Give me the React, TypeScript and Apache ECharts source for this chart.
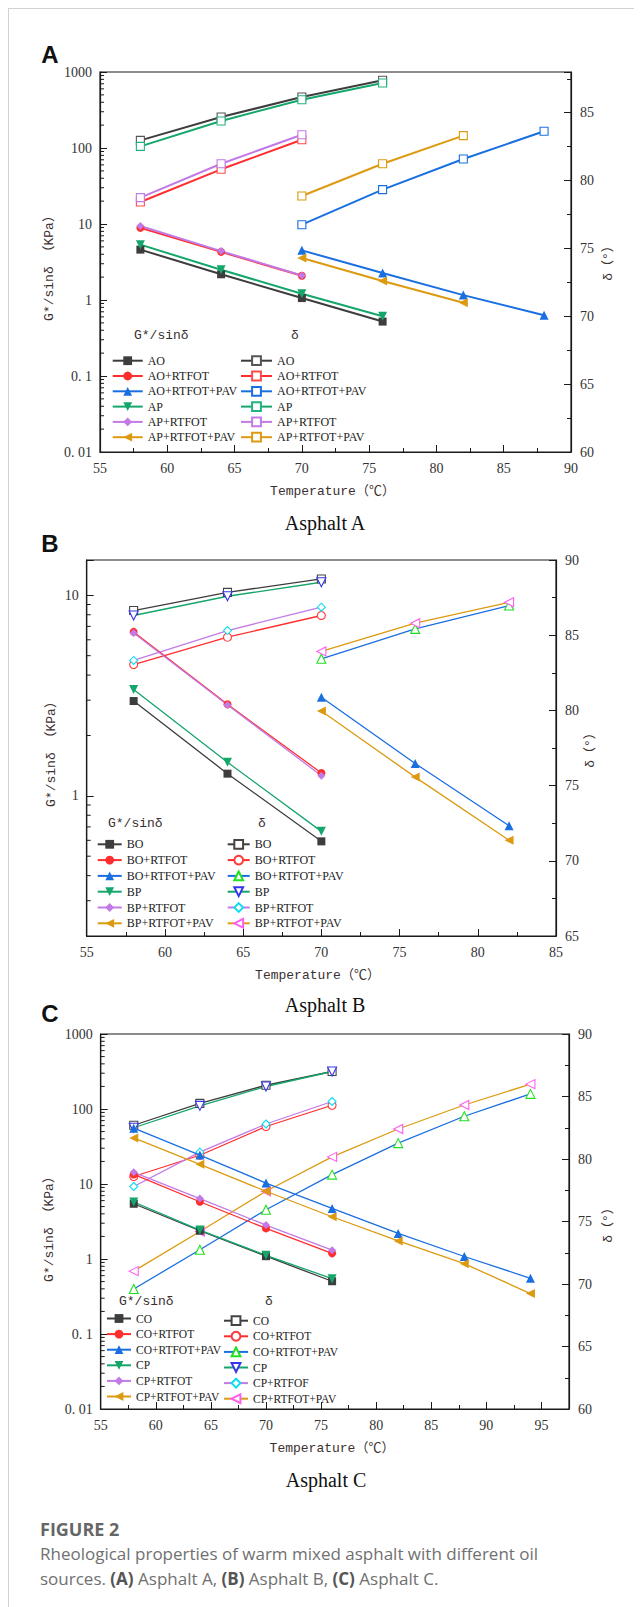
import React, { useEffect, useRef } from 'react';
import * as echarts from 'echarts';

// ---------- Panel A : Asphalt A ----------
const A_G_NAMES = ['AO', 'AO+RTFOT', 'AO+RTFOT+PAV', 'AP', 'AP+RTFOT', 'AP+RTFOT+PAV'];
const A_D_NAMES = ['AO', 'AO+RTFOT', 'AO+RTFOT+PAV', 'AP', 'AP+RTFOT', 'AP+RTFOT+PAV'];
const A_TEMPS = [
  [58, 64, 70, 76],
  [58, 64, 70],
  [70, 76, 82, 88],
  [58, 64, 70, 76],
  [58, 64, 70],
  [70, 76, 82],
];
const A_G_AO = [4.6, 2.18, 1.06, 0.52];
const A_G_AO_RTFOT = [8.9, 4.3, 2.08];
const A_G_AO_PAV = [4.5, 2.27, 1.16, 0.63];
const A_G_AP = [5.35, 2.5, 1.21, 0.61];
const A_G_AP_RTFOT = [9.4, 4.4, 2.1];
const A_G_AP_PAV = [3.57, 1.78, 0.92];
const A_D_AO = [82.96, 84.68, 86.16, 87.39];
const A_D_AO_RTFOT = [78.42, 80.83, 83.01];
const A_D_AO_PAV = [76.75, 79.33, 81.59, 83.63];
const A_D_AP = [82.52, 84.39, 85.96, 87.19];
const A_D_AP_RTFOT = [78.74, 81.24, 83.38];
const A_D_AP_PAV = [78.86, 81.24, 83.31];

// ---------- Panel B : Asphalt B ----------
const B_G_NAMES = ['BO', 'BO+RTFOT', 'BO+RTFOT+PAV', 'BP', 'BP+RTFOT', 'BP+RTFOT+PAV'];
const B_D_NAMES = ['BO', 'BO+RTFOT', 'BO+RTFOT+PAV', 'BP', 'BP+RTFOT', 'BP+RTFOT+PAV'];
const B_TEMPS = [
  [58, 64, 70],
  [58, 64, 70],
  [70, 76, 82],
  [58, 64, 70],
  [58, 64, 70],
  [70, 76, 82],
];
const B_G_BO = [2.97, 1.29, 0.593];
const B_G_BO_RTFOT = [6.57, 2.86, 1.3];
const B_G_BO_PAV = [3.1, 1.45, 0.709];
const B_G_BP = [3.39, 1.47, 0.665];
const B_G_BP_RTFOT = [6.49, 2.84, 1.26];
const B_G_BP_PAV = [2.65, 1.24, 0.6];
const B_D_BO = [86.64, 87.85, 88.74];
const B_D_BO_RTFOT = [83.05, 84.87, 86.31];
const B_D_BO_PAV = [83.43, 85.42, 86.97];
const B_D_BP = [86.31, 87.59, 88.52];
const B_D_BP_RTFOT = [83.32, 85.31, 86.86];
const B_D_BP_PAV = [83.92, 85.8, 87.19];

// ---------- Panel C : Asphalt C ----------
const C_G_NAMES = ['CO', 'CO+RTFOT', 'CO+RTFOT+PAV', 'CP', 'CP+RTFOT', 'CP+RTFOT+PAV'];
const C_D_NAMES = ['CO', 'CO+RTFOT', 'CO+RTFOT+PAV', 'CP', 'CP+RTFOF', 'CP+RTFOT+PAV'];
const C_TEMPS = [
  [58, 64, 70, 76],
  [58, 64, 70, 76],
  [58, 64, 70, 76, 82, 88, 94],
  [58, 64, 70, 76],
  [58, 64, 70, 76],
  [58, 64, 70, 76, 82, 88, 94],
];
const C_G_CO = [5.45, 2.38, 1.09, 0.505];
const C_G_CO_RTFOT = [13.4, 5.8, 2.56, 1.19];
const C_G_CO_PAV = [55.5, 24.3, 10.3, 4.72, 2.19, 1.08, 0.553];
const C_G_CP = [5.75, 2.43, 1.12, 0.547];
const C_G_CP_RTFOT = [14.3, 6.4, 2.83, 1.31];
const C_G_CP_PAV = [41.2, 18.3, 8.0, 3.66, 1.74, 0.866, 0.346];
const C_D_CO = [82.7, 84.45, 85.9, 87.0];
const C_D_CO_RTFOT = [78.6, 80.3, 82.6, 84.3];
const C_D_CO_PAV = [69.6, 72.74, 75.94, 78.75, 81.27, 83.42, 85.21];
const C_D_CP = [82.5, 84.25, 85.8, 87.0];
const C_D_CP_RTFOT = [77.8, 80.55, 82.8, 84.6];
const C_D_CP_PAV = [71.03, 74.2, 77.42, 80.17, 82.4, 84.32, 85.99];

// axis ranges / tick values
const X_MAX = [90, 85, 97.5];
const LOG_MINOR_AC = [
  0.02, 0.03, 0.04, 0.05, 0.06, 0.07, 0.08, 0.09,
  0.2, 0.3, 0.4, 0.5, 0.6, 0.7, 0.8, 0.9,
  2, 3, 4, 5, 6, 7, 8, 9,
  20, 30, 40, 50, 60, 70, 80, 90,
  200, 300, 400, 500, 600, 700, 800, 900,
];
const LOG_MINOR_B = [0.3, 0.4, 0.5, 0.6, 0.7, 0.8, 0.9, 2, 3, 4, 5, 6, 7, 8, 9];

// ---------- styles ----------
const FILLED = [
  { color: '#3d3d3d', symbol: 'rect', rotate: 0 },
  { color: '#ff2d2d', symbol: 'circle', rotate: 0 },
  { color: '#1a6fe0', symbol: 'triangle', rotate: 0 },
  { color: '#14a66a', symbol: 'triangle', rotate: 180 },
  { color: '#c27ae6', symbol: 'diamond', rotate: 0 },
  { color: '#dc9a10', symbol: 'triangle', rotate: 90 },
];
const OPEN_A = [
  { color: '#555555', symbol: 'rect', rotate: 0 },
  { color: '#ff4a4a', symbol: 'rect', rotate: 0 },
  { color: '#1a6fe0', symbol: 'rect', rotate: 0 },
  { color: '#22b47c', symbol: 'rect', rotate: 0 },
  { color: '#c27ae6', symbol: 'rect', rotate: 0 },
  { color: '#dc9a10', symbol: 'rect', rotate: 0 },
];
const OPEN_BC = [
  { color: '#444444', symbol: 'rect', rotate: 0 },
  { color: '#ff3a3a', symbol: 'circle', rotate: 0 },
  { color: '#22e022', symbol: 'triangle', rotate: 0 },
  { color: '#3535ee', symbol: 'triangle', rotate: 180 },
  { color: '#10dcf0', symbol: 'diamond', rotate: 0 },
  { color: '#ff5ef0', symbol: 'triangle', rotate: 90 },
];

const AXIS_COLOR = '#1a1a1a';
const LABEL_FONT = 'Liberation Serif';
const MONO_FONT = "'Liberation Mono', 'Noto Sans CJK SC'";
const ZW = '\u200b';

const zip = (xs: number[], ys: number[]) => xs.map((x, i) => [x, ys[i]]);

const logFmt = (v: number) => {
  const e = Math.log10(v);
  if (Math.abs(e - Math.round(e)) > 1e-6) return '';
  const r = Math.round(e);
  if (r === -2) return '0. 01';
  if (r === -1) return '0. 1';
  return String(Math.round(v));
};
const fiveFmt = (v: number) => (Math.abs(v % 5) < 1e-6 ? String(v) : '');

function buildPanel(
  p: number,
  gNames: string[],
  dNames: string[],
  temps: number[][],
  gVals: number[][],
  dVals: number[][],
  openStyles: typeof OPEN_BC,
  lineWidth: number,
  symSize: number,
  minorTicks: number[],
) {
  const series: any[] = [];
  gNames.forEach((n, i) => {
    const s = FILLED[i];
    series.push({
      type: 'line',
      name: n,
      xAxisIndex: p,
      yAxisIndex: 2 * p,
      data: zip(temps[i], gVals[i]),
      symbol: s.symbol,
      symbolRotate: s.rotate,
      symbolSize: s.symbol === 'triangle' ? symSize + 1 : symSize,
      lineStyle: { color: s.color, width: lineWidth },
      itemStyle: { color: s.color, borderWidth: 0 },
      z: 3,
    });
  });
  dNames.forEach((n, i) => {
    const s = openStyles[i];
    series.push({
      type: 'line',
      name: n + ZW,
      xAxisIndex: p,
      yAxisIndex: 2 * p + 1,
      data: zip(temps[i], dVals[i]),
      symbol: s.symbol,
      symbolRotate: s.rotate,
      symbolSize: s.symbol === 'triangle' ? symSize + 1 : symSize,
      lineStyle: { color: FILLED[i].color, width: lineWidth },
      itemStyle: { color: '#ffffff', borderColor: s.color, borderWidth: 1.1 },
      z: 2,
    });
  });
  series.push({
    type: 'custom',
    name: 'minor' + p,
    xAxisIndex: p,
    yAxisIndex: 2 * p,
    silent: true,
    clip: false,
    z: 5,
    data: minorTicks.map((v) => [55, v]),
    renderItem: (_params: any, api: any) => {
      const pt = api.coord([api.value(0), api.value(1)]);
      return {
        type: 'line',
        shape: { x1: pt[0], y1: pt[1], x2: pt[0] + 4, y2: pt[1] },
        style: { stroke: AXIS_COLOR, lineWidth: 1 },
      };
    },
  });
  return series;
}

function xAxis(p: number, max: number) {
  return {
    type: 'value',
    gridIndex: p,
    min: 55,
    max,
    interval: 5,
    axisLine: { show: true, onZero: false, lineStyle: { color: AXIS_COLOR, width: 1.2 } },
    axisTick: { show: true, inside: true, length: 7, lineStyle: { color: AXIS_COLOR, width: 1 } },
    minorTick: { show: true, splitNumber: 2, length: 4, lineStyle: { color: AXIS_COLOR, width: 1 } },
    axisLabel: { fontFamily: LABEL_FONT, fontSize: 14, color: '#333', margin: 9, formatter: fiveFmt },
    splitLine: { show: false },
  };
}
function yLog(p: number, min: number, max: number) {
  return {
    type: 'log',
    logBase: 10,
    gridIndex: p,
    position: 'left',
    min,
    max,
    axisLine: { show: true, onZero: false, lineStyle: { color: AXIS_COLOR, width: 1.2 } },
    axisTick: { show: true, inside: true, length: 7, lineStyle: { color: AXIS_COLOR, width: 1 } },
    minorTick: { show: false },
    axisLabel: { fontFamily: LABEL_FONT, fontSize: 14, color: '#333', margin: 8, formatter: logFmt },
    splitLine: { show: false },
  };
}
function yRight(p: number, min: number, max: number) {
  return {
    type: 'value',
    gridIndex: p,
    position: 'right',
    min,
    max,
    interval: 5,
    axisLine: { show: true, onZero: false, lineStyle: { color: AXIS_COLOR, width: 1.2 } },
    axisTick: { show: true, inside: true, length: 7, lineStyle: { color: AXIS_COLOR, width: 1 } },
    minorTick: { show: true, splitNumber: 2, length: 4, lineStyle: { color: AXIS_COLOR, width: 1 } },
    axisLabel: { fontFamily: LABEL_FONT, fontSize: 14, color: '#333', margin: 9, formatter: fiveFmt },
    splitLine: { show: false },
  };
}

function legend(left: number, top: number, names: string[], itemWidth: number, gap: number, fontSize: number) {
  return {
    orient: 'vertical',
    left,
    top,
    padding: 0,
    itemWidth,
    itemHeight: 11,
    itemGap: gap,
    selectedMode: false,
    data: names,
    formatter: (n: string) => n.replace(/\u200b/g, ''),
    textStyle: { fontFamily: LABEL_FONT, fontSize, color: '#222', lineHeight: 12 },
  };
}

function txt(x: number, y: number, text: string, font: any, extra: any = {}) {
  return {
    type: 'text',
    x,
    y,
    silent: true,
    ...extra,
    style: { text, align: 'center', verticalAlign: 'middle', ...font },
  };
}

export default function App() {
  const ref = useRef<HTMLDivElement>(null);
  useEffect(() => {
    if (!ref.current) return;
    const chart = echarts.init(ref.current, undefined, { renderer: 'svg' });

    const series = [
      ...buildPanel(0, A_G_NAMES, A_D_NAMES, A_TEMPS,
        [A_G_AO, A_G_AO_RTFOT, A_G_AO_PAV, A_G_AP, A_G_AP_RTFOT, A_G_AP_PAV],
        [A_D_AO, A_D_AO_RTFOT, A_D_AO_PAV, A_D_AP, A_D_AP_RTFOT, A_D_AP_PAV],
        OPEN_A, 2, 8, LOG_MINOR_AC),
      ...buildPanel(1, B_G_NAMES, B_D_NAMES, B_TEMPS,
        [B_G_BO, B_G_BO_RTFOT, B_G_BO_PAV, B_G_BP, B_G_BP_RTFOT, B_G_BP_PAV],
        [B_D_BO, B_D_BO_RTFOT, B_D_BO_PAV, B_D_BP, B_D_BP_RTFOT, B_D_BP_PAV],
        OPEN_BC, 1.3, 8, LOG_MINOR_B),
      ...buildPanel(2, C_G_NAMES, C_D_NAMES, C_TEMPS,
        [C_G_CO, C_G_CO_RTFOT, C_G_CO_PAV, C_G_CP, C_G_CP_RTFOT, C_G_CP_PAV],
        [C_D_CO, C_D_CO_RTFOT, C_D_CO_PAV, C_D_CP, C_D_CP_RTFOT, C_D_CP_PAV],
        OPEN_BC, 1.3, 8, LOG_MINOR_AC),
    ];

    const axisNameFont = { fontFamily: MONO_FONT, fontSize: 13, fill: '#3b3030' };
    const tempFont = { fontFamily: MONO_FONT, fontSize: 13, fill: '#3b3030' };
    const titleFont = { fontFamily: 'Liberation Serif', fontSize: 20, fill: '#111' };
    const letterFont = { fontFamily: 'Liberation Sans', fontSize: 24, fontWeight: 'bold', fill: '#111' };
    const headFont = { fontFamily: MONO_FONT, fontSize: 13, fill: '#3b3030', align: 'left' };
    const rot = { rotation: Math.PI / 2 };

    const graphic: any[] = [
      { type: 'line', silent: true, shape: { x1: 0, y1: 0.5, x2: 634, y2: 0.5 }, style: { stroke: '#d2d2d2', lineWidth: 1 } },
      { type: 'line', silent: true, shape: { x1: 0.5, y1: 0, x2: 0.5, y2: 1599 }, style: { stroke: '#d2d2d2', lineWidth: 1 } },
      // panel letters
      txt(42, 46, 'A', letterFont),
      txt(42, 535, 'B', letterFont),
      txt(42, 1005, 'C', letterFont),
      // axis names A
      txt(41, 257, 'G*/sinδ （KPa）', axisNameFont, rot),
      txt(600, 252, 'δ（°）', axisNameFont, rot),
      txt(324.5, 483.7, 'Temperature（℃）', tempFont),
      txt(317, 515, 'Asphalt A', titleFont),
      txt(126, 327, 'G*/sinδ', headFont),
      txt(283, 327, 'δ', headFont),
      // axis names B
      txt(43, 743, 'G*/sinδ （KPa）', axisNameFont, rot),
      txt(582, 739, 'δ（°）', axisNameFont, rot),
      txt(309.5, 967, 'Temperature（℃）', tempFont),
      txt(317, 997, 'Asphalt B', titleFont),
      txt(100, 815.3, 'G*/sinδ', headFont),
      txt(250, 815.3, 'δ', headFont),
      // axis names C
      txt(41, 1218, 'G*/sinδ （KPa）', axisNameFont, rot),
      txt(600, 1214, 'δ（°）', axisNameFont, rot),
      txt(324, 1440.8, 'Temperature（℃）', tempFont),
      txt(318, 1472, 'Asphalt C', titleFont),
      txt(111, 1293, 'G*/sinδ', headFont),
      txt(257, 1293, 'δ', headFont),
      // caption
      txt(32, 1520.7, 'FIGURE 2', { fontFamily: 'Open Sans', fontSize: 18, fontWeight: 'bold', fill: '#666', align: 'left' }),
      txt(32, 1545, 'Rheological properties of warm mixed asphalt with different oil', { fontFamily: 'Open Sans', fontSize: 17, fill: '#707070', align: 'left' }),
      {
        type: 'text',
        x: 32,
        y: 1570,
        silent: true,
        style: {
          text: '{n|sources. }{b|(A)}{n| Asphalt A, }{b|(B)}{n| Asphalt B, }{b|(C)}{n| Asphalt C.}',
          align: 'left',
          verticalAlign: 'middle',
          rich: {
            n: { fontFamily: 'Open Sans', fontSize: 17, fill: '#707070' },
            b: { fontFamily: 'Open Sans', fontSize: 17, fontWeight: 'bold', fill: '#555' },
          },
        },
      },
    ];

    const gridBase = { show: true, borderColor: AXIS_COLOR, borderWidth: 1.2, backgroundColor: 'transparent' };

    chart.setOption({
      animation: false,
      grid: [
        { ...gridBase, left: 92, top: 64, width: 471, height: 380 },
        { ...gridBase, left: 78.7, top: 552, width: 469.3, height: 376 },
        { ...gridBase, left: 92.7, top: 1026, width: 468.3, height: 375 },
      ],
      xAxis: [xAxis(0, X_MAX[0]), xAxis(1, X_MAX[1]), xAxis(2, X_MAX[2])],
      yAxis: [
        yLog(0, 0.01, 1000), yRight(0, 60, 88),
        yLog(1, 0.2, 15), yRight(1, 65, 90),
        yLog(2, 0.01, 1000), yRight(2, 60, 90),
      ],
      legend: [
        legend(103.7, 346.7, A_G_NAMES, 30, 3.3, 12),
        legend(232, 346.7, A_D_NAMES.map((n) => n + ZW), 31, 3.3, 12),
        legend(88.7, 830.3, B_G_NAMES, 24, 3.8, 12),
        legend(218.7, 830.3, B_D_NAMES.map((n) => n + ZW), 22, 3.8, 12),
        legend(98, 1304.5, C_G_NAMES, 24, 3.6, 11.5),
        legend(215, 1306.7, C_D_NAMES.map((n) => n + ZW), 24, 3.6, 11.5),
      ],
      graphic,
      series,
    });
    return () => chart.dispose();
  }, []);
  return <div ref={ref} style={{ width: 634, height: 1599 }} />;
}
